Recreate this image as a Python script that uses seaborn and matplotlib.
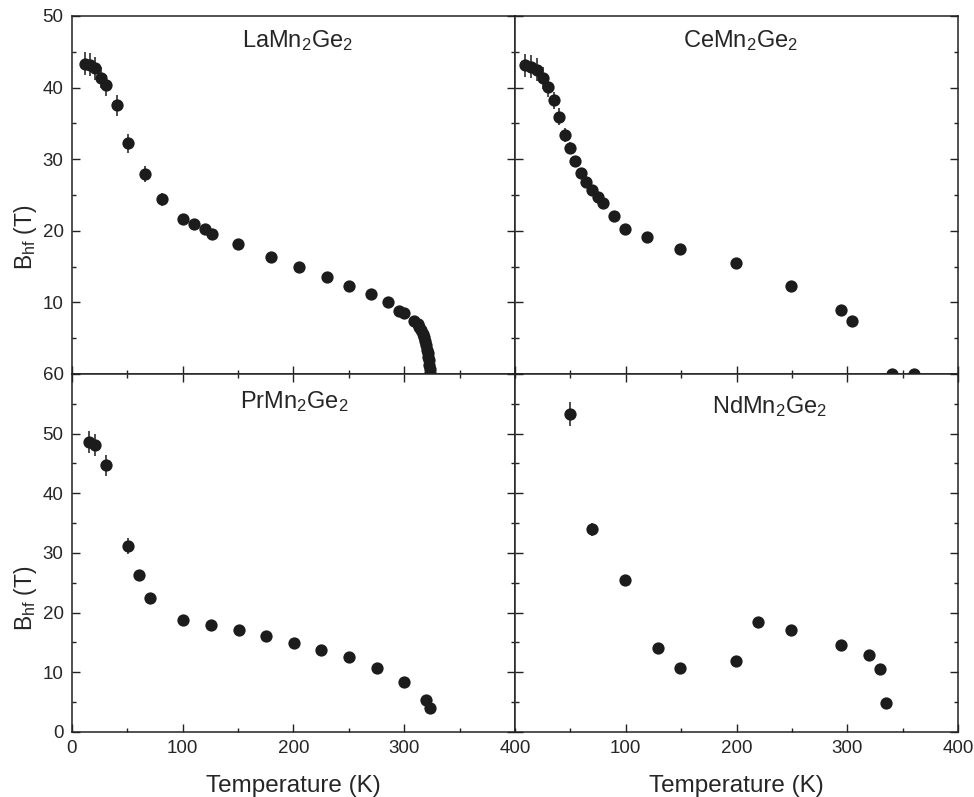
import matplotlib
matplotlib.use("Agg")
import matplotlib.pyplot as plt
import numpy as np
import pandas as pd
import seaborn as sns
from matplotlib.ticker import MultipleLocator

# --- data ---
la_t = [12, 16, 21, 26, 31, 41, 51, 66, 81, 100, 110, 120, 126, 150, 180, 205, 230, 250, 270,
        285, 295, 300, 309, 312, 313.5, 315, 316.5, 317.5, 318.5, 319.5, 320.5, 321, 321.5, 322,
        322.5, 323, 323.3]
la_b = [43.3, 43.2, 42.7, 41.4, 40.3, 37.5, 32.2, 27.9, 24.4, 21.6, 21.0, 20.2, 19.6, 18.2,
        16.4, 15.0, 13.5, 12.3, 11.2, 10.0, 8.8, 8.5, 7.4, 7.0, 6.6, 6.2, 5.6, 5.1, 4.6, 4.0, 3.4,
        2.9, 2.4, 1.9, 1.3, 0.7, 0.2]
la_err = [1.6, 1.6, 1.6, 1.5, 1.5, 1.45, 1.3, 1.15, 0.9, 0.7] + [0.4] * 27

ce_t = [9, 14, 20, 25, 30, 35, 40, 45, 49.5, 54.6, 59.4, 64.5, 69.4, 74.5, 79.6, 89.6, 99.5,
        119.5, 149.3, 199.4, 249.5, 294.4, 304.7, 340, 360]
ce_b = [43.1, 42.9, 42.5, 41.3, 40.1, 38.2, 35.9, 33.4, 31.6, 29.8, 28.1, 26.8, 25.7, 24.7,
        23.9, 22.0, 20.3, 19.1, 17.5, 15.5, 12.3, 8.9, 7.4, 0.0, 0.0]
ce_err = [1.6, 1.6, 1.6, 1.5, 1.4, 1.2, 1.2, 1.0, 0.8, 0.7, 0.6] + [0.4] * 14

pr_t = [15.6, 20.7, 31, 50.8, 60.7, 70.6, 100.6, 125.8, 150.5, 175.4, 200.3, 225.2, 250.1,
        275, 300, 319.5, 323.4]
pr_b = [48.6, 48.1, 44.7, 31.2, 26.3, 22.4, 18.7, 17.9, 17.1, 16.1, 14.9, 13.8, 12.5, 10.7,
        8.4, 5.3, 4.1]
pr_err = [1.9, 1.9, 1.75, 1.3, 0.85, 0.6] + [0.4] * 11

nd_t = [49.5, 69.4, 99.5, 129.4, 149.3, 199.4, 219.3, 249.5, 294.4, 319.5, 329.4, 334.6]
nd_b = [53.3, 34.0, 25.5, 14.0, 10.8, 11.9, 18.5, 17.1, 14.6, 12.9, 10.6, 4.9]
nd_err = [1.95, 1.1] + [0.4] * 10

panels = [
    (r"LaMn$_\mathregular{2}$Ge$_\mathregular{2}$", la_t, la_b, la_err),
    (r"CeMn$_\mathregular{2}$Ge$_\mathregular{2}$", ce_t, ce_b, ce_err),
    (r"PrMn$_\mathregular{2}$Ge$_\mathregular{2}$", pr_t, pr_b, pr_err),
    (r"NdMn$_\mathregular{2}$Ge$_\mathregular{2}$", nd_t, nd_b, nd_err),
]
title_pos = [(0.51, 0.914), (0.51, 0.914), (0.502, 0.905), (0.575, 0.89)]

sns.set_theme(style="ticks")
plt.rcParams["font.family"] = ["Liberation Sans", "DejaVu Sans"]
plt.rcParams["mathtext.fontset"] = "custom"
plt.rcParams["mathtext.rm"] = "Liberation Sans"
plt.rcParams["mathtext.it"] = "Liberation Sans:italic"

dark = "#1c1c1c"
fig, axes = plt.subplots(2, 2, figsize=(9.74, 7.97), dpi=100)
fig.subplots_adjust(left=0.0739, right=0.9836, top=0.98, bottom=0.0816, hspace=0, wspace=0)

for i, (ax, (name, t, b, err)) in enumerate(zip(axes.flat, panels)):
    row, col = divmod(i, 2)
    df = pd.DataFrame({"T": t, "B": b, "err": err})
    ax.errorbar(df["T"], df["B"], yerr=df["err"], fmt="none", ecolor=dark, elinewidth=1.1,
                capsize=0, zorder=2)
    sns.scatterplot(data=df, x="T", y="B", ax=ax, s=78, color=dark, linewidth=0, zorder=3)
    ax.set_xlim(0, 400)
    ax.set_ylim(0, 50 if row == 0 else 60)
    ax.xaxis.set_major_locator(MultipleLocator(100))
    ax.xaxis.set_minor_locator(MultipleLocator(50))
    ax.yaxis.set_major_locator(MultipleLocator(10))
    ax.yaxis.set_minor_locator(MultipleLocator(5))
    ax.tick_params(which="both", direction="in", left=True, right=True, bottom=True,
                   top=(row == 1), labelsize=13.5, color="#222222", width=1.0, pad=6)
    ax.tick_params(which="major", length=6)
    ax.tick_params(which="minor", length=3)
    for sp in ax.spines.values():
        sp.set_linewidth(1.1)
        sp.set_color("#222222")
    ax.text(title_pos[i][0], title_pos[i][1], name, transform=ax.transAxes, ha="center",
            va="baseline", fontsize=17)
    ax.set_xlabel("")
    ax.set_ylabel("")
    if col == 1:
        ax.tick_params(labelleft=False)
    else:
        ax.set_ylabel(r"B$_\mathregular{hf}$ (T)", fontsize=16.5)
        ax.yaxis.set_label_coords(-0.075, 0.383 if row == 0 else 0.374)
        if row == 0:
            ax.set_yticks([10, 20, 30, 40, 50])
    if row == 0:
        ax.tick_params(labelbottom=False)
    else:
        ax.set_xlabel("Temperature (K)", fontsize=17.5, labelpad=13)
        if col == 1:
            ax.set_xticks([100, 200, 300, 400])

fig.savefig("out.png", dpi=100)
